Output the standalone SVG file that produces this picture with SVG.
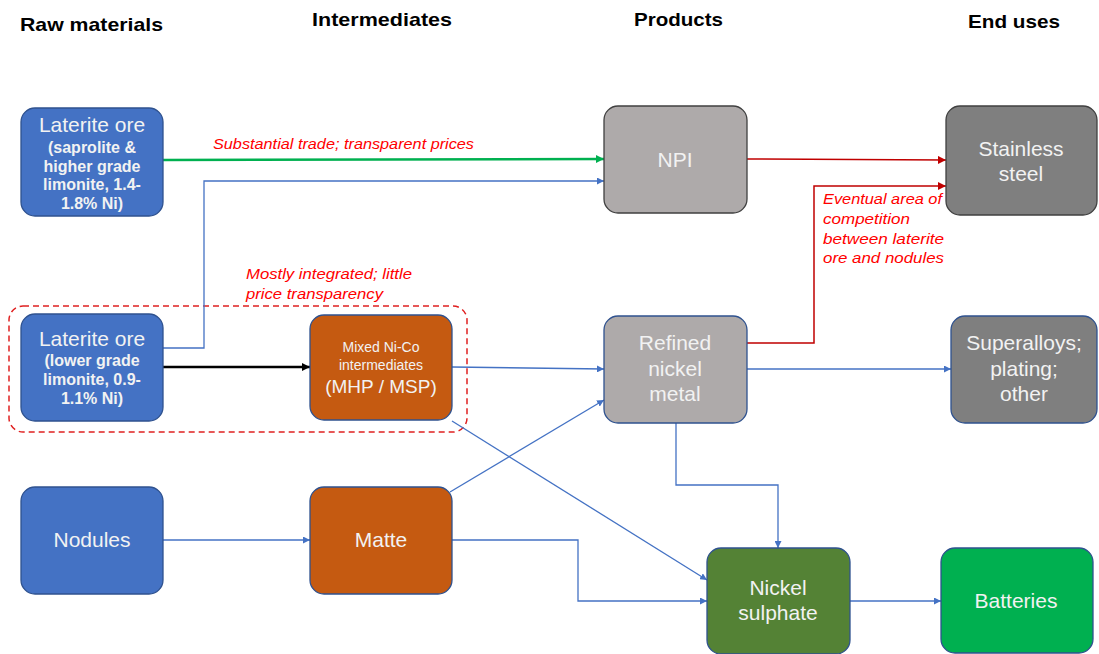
<svg xmlns="http://www.w3.org/2000/svg" width="1099" height="654" viewBox="0 0 1099 654">
<style>
.hdr{font-family:"Liberation Sans",Arial,sans-serif;font-weight:bold;font-size:19px;fill:#000}
.nt{font-family:"Liberation Sans",Arial,sans-serif;fill:#f2f2f2;text-anchor:middle}
.big{font-size:21px}
.sub{font-size:16px;font-weight:bold}
.lbl{font-family:"Liberation Sans",Arial,sans-serif;font-style:italic;font-size:14.5px;fill:#ff0000}
.blue{fill:#4472C4;stroke:#2F528F;stroke-width:1.3}
.orange{fill:#C55A11;stroke:#2F528F;stroke-width:1.3}
.grey{fill:#AEAAAA;stroke:#2F528F;stroke-width:1.3}
.grey2{fill:#AEAAAA;stroke:#404040;stroke-width:1.3}
.dgrey{fill:#7F7F7F;stroke:#404040;stroke-width:1.3}
.dgrey2{fill:#7F7F7F;stroke:#2F528F;stroke-width:1.3}
.dgreen{fill:#548235;stroke:#2F528F;stroke-width:1.3}
.bgreen{fill:#00B050;stroke:#2F528F;stroke-width:1.3}
.cb{fill:none;stroke:#4472C4;stroke-width:1.3;marker-end:url(#ab)}
.cr{fill:none;stroke:#C00000;stroke-width:1.5;marker-end:url(#ar)}
</style>
<defs>
<marker id="ab" viewBox="0 0 10 10" refX="10" refY="5" markerWidth="7" markerHeight="7" markerUnits="userSpaceOnUse" orient="auto"><path d="M0,0L10,5L0,10z" fill="#4472C4"/></marker>
<marker id="ar" viewBox="0 0 10 10" refX="10" refY="5" markerWidth="8" markerHeight="8" markerUnits="userSpaceOnUse" orient="auto"><path d="M0,0L10,5L0,10z" fill="#C00000"/></marker>
<marker id="ag" viewBox="0 0 10 10" refX="10" refY="5" markerWidth="8" markerHeight="8" markerUnits="userSpaceOnUse" orient="auto"><path d="M0,0L10,5L0,10z" fill="#00B050"/></marker>
<marker id="ak" viewBox="0 0 10 10" refX="10" refY="5" markerWidth="8" markerHeight="8" markerUnits="userSpaceOnUse" orient="auto"><path d="M0,0L10,5L0,10z" fill="#000"/></marker>
</defs>
<rect width="1099" height="654" fill="#fff"/>
<g id="headers">
<text class="hdr" x="20" y="31" textLength="143" lengthAdjust="spacingAndGlyphs">Raw materials</text>
<text class="hdr" x="312" y="26" textLength="140" lengthAdjust="spacingAndGlyphs">Intermediates</text>
<text class="hdr" x="634" y="26" textLength="89" lengthAdjust="spacingAndGlyphs">Products</text>
<text class="hdr" x="968" y="28" textLength="92" lengthAdjust="spacingAndGlyphs">End uses</text>
</g>
<g id="group-box">
<rect x="9" y="306" width="458" height="126" rx="14" fill="none" stroke="#E02020" stroke-width="1.5" stroke-dasharray="6,4"/>
</g>
<g id="connectors">
<path d="M163,160 L604,159" fill="none" stroke="#00B050" stroke-width="2.5" marker-end="url(#ag)"/>
<path class="cb" d="M163,348 L204,348 L204,181 L604,181"/>
<path d="M163,367 L310,367" fill="none" stroke="#000" stroke-width="2.5" marker-end="url(#ak)"/>
<path class="cb" d="M452,367 L604,369"/>
<path class="cb" d="M452,421 L707,580"/>
<path class="cb" d="M163,540 L310,540"/>
<path class="cb" d="M450,492 L604,400"/>
<path class="cb" d="M452,540 L578,540 L578,601 L707,601"/>
<path class="cb" d="M676,423 L676,485 L778,485 L778,548"/>
<path class="cb" d="M747,369 L951,369"/>
<path class="cb" d="M850,601 L941,601"/>
<path class="cr" d="M747,159 L946,160"/>
<path class="cr" d="M747,343 L814,343 L814,186 L946,186"/>
</g>
<g id="labels">
<text class="lbl" x="213" y="149" textLength="261" lengthAdjust="spacingAndGlyphs">Substantial trade; transparent prices</text>
<text class="lbl" x="246" y="279" textLength="166" lengthAdjust="spacingAndGlyphs">Mostly integrated; little</text>
<text class="lbl" x="246" y="299" textLength="137" lengthAdjust="spacingAndGlyphs">price transparency</text>
<text class="lbl" x="823" y="204" textLength="119" lengthAdjust="spacingAndGlyphs">Eventual area of</text>
<text class="lbl" x="823" y="224" textLength="87" lengthAdjust="spacingAndGlyphs">competition</text>
<text class="lbl" x="823" y="244" textLength="121" lengthAdjust="spacingAndGlyphs">between laterite</text>
<text class="lbl" x="823" y="263" textLength="121" lengthAdjust="spacingAndGlyphs">ore and nodules</text>
</g>
<g id="node-laterite1">
<rect class="blue" x="21" y="108" width="142" height="108" rx="14"/>
<text class="nt big" x="92" y="132">Laterite ore</text>
<text class="nt sub" x="92" y="153">(saprolite &amp;</text>
<text class="nt sub" x="92" y="172">higher grade</text>
<text class="nt sub" x="92" y="190">limonite, 1.4-</text>
<text class="nt sub" x="92" y="209">1.8% Ni)</text>
</g>
<g id="node-laterite2">
<rect class="blue" x="21" y="314" width="142" height="107" rx="14"/>
<text class="nt big" x="92" y="346">Laterite ore</text>
<text class="nt sub" x="92" y="366">(lower grade</text>
<text class="nt sub" x="92" y="385">limonite, 0.9-</text>
<text class="nt sub" x="92" y="404">1.1% Ni)</text>
</g>
<g id="node-nodules">
<rect class="blue" x="21" y="487" width="142" height="107" rx="14"/>
<text class="nt big" x="92" y="547">Nodules</text>
</g>
<g id="node-mixed">
<rect class="orange" x="310" y="315" width="142" height="105" rx="14"/>
<text class="nt" x="381" y="352" font-size="14">Mixed Ni-Co</text>
<text class="nt" x="381" y="370" font-size="14">intermediates</text>
<text class="nt" x="381" y="393" font-size="19">(MHP / MSP)</text>
</g>
<g id="node-matte">
<rect class="orange" x="310" y="487" width="142" height="107" rx="14"/>
<text class="nt big" x="381" y="547">Matte</text>
</g>
<g id="node-npi">
<rect class="grey2" x="604" y="106" width="143" height="107" rx="14"/>
<text class="nt big" x="675" y="167">NPI</text>
</g>
<g id="node-refined">
<rect class="grey" x="604" y="316" width="143" height="107" rx="14"/>
<text class="nt big" x="675" y="350">Refined</text>
<text class="nt big" x="675" y="376">nickel</text>
<text class="nt big" x="675" y="401">metal</text>
</g>
<g id="node-sulphate">
<rect class="dgreen" x="707" y="548" width="143" height="106" rx="14"/>
<text class="nt big" x="778" y="595">Nickel</text>
<text class="nt big" x="778" y="620">sulphate</text>
</g>
<g id="node-stainless">
<rect class="dgrey" x="946" y="106" width="151" height="109" rx="14"/>
<text class="nt big" x="1021" y="156">Stainless</text>
<text class="nt big" x="1021" y="181">steel</text>
</g>
<g id="node-superalloys">
<rect class="dgrey2" x="951" y="316" width="146" height="107" rx="14"/>
<text class="nt big" x="1024" y="350">Superalloys;</text>
<text class="nt big" x="1024" y="376">plating;</text>
<text class="nt big" x="1024" y="401">other</text>
</g>
<g id="node-batteries">
<rect class="bgreen" x="941" y="548" width="152" height="105" rx="14"/>
<text class="nt big" x="1016" y="608">Batteries</text>
</g>
</svg>
